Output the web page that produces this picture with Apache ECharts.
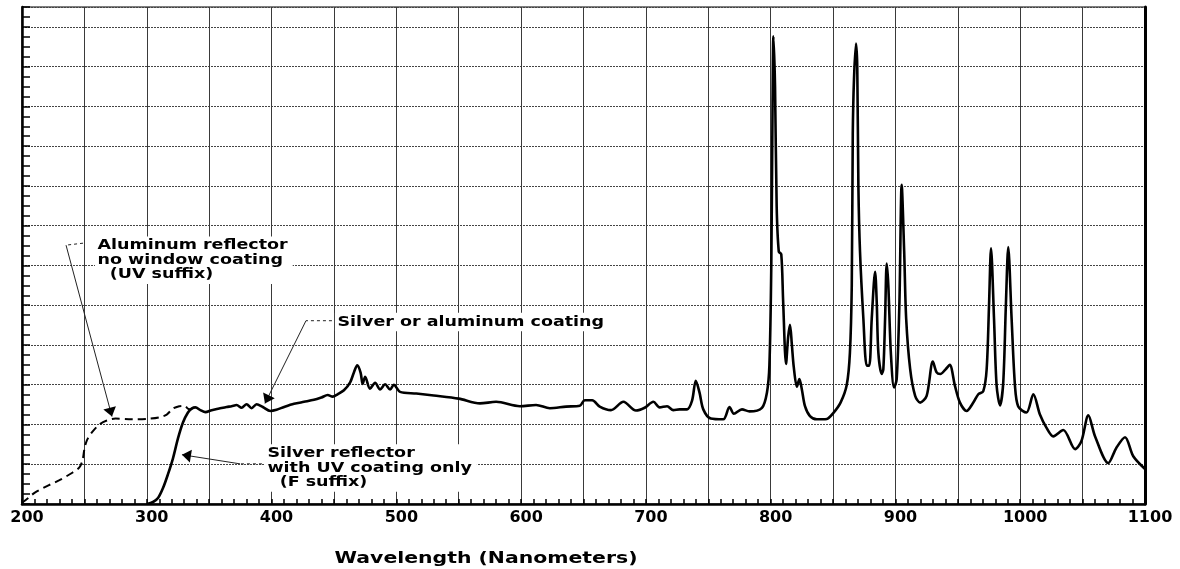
<!DOCTYPE html>
<html><head><meta charset="utf-8">
<script src="https://cdn.jsdelivr.net/npm/echarts/dist/echarts.min.js"></script>
<style>html,body{margin:0;padding:0;background:#fff}#c{width:1180px;height:569px}</style>
</head><body><div id="c"></div>
<script>
// ---- data ----
const xTickLabels = [200, 300, 400, 500, 600, 700, 800, 900, 1000, 1100];
const axisTitle = 'Wavelength (Nanometers)';

// solid curve: silver reflector with UV coating, then common silver/aluminum coating
const solidNm = [300,305,309,313,317,321,325,329,333,336,339,343,347,352,358,364,368,372,376,380,384,388,393,399,404,410,418,426,434,440,445,449,453,458,463,466,468.7,471.4,473,475,478.9,483,487,491,495,498,503,516,530,550,567,580,599,612,623,636,647,651,657,663,672,682,692,699,706,711,717,722,727,733,737,740,743,746,752,762,767,770.5,777,783,793,797,799,800.5,801.5,802.2,803.5,804.8,806.5,808.5,810,812.3,814,815.5,817,818.5,821,823,825,827.5,831.5,837,845,850,856,861,863.5,865,865.8,866.8,868.4,869.4,870.3,871.6,874.3,877,879,881,883.7,885,886.3,889,890.3,891.7,893,894.3,896.3,898.9,901,903.2,905,907,908.6,911.8,915.8,919.8,925,930,933,936,940,943.5,947.7,951.7,957,962.4,966.4,970.4,973.1,975,976.6,979,981.1,983.8,986.4,988.5,990.4,993.1,995.8,998.4,1005,1010.5,1015.8,1021,1026.5,1034.5,1044,1049,1054.6,1060,1070.6,1077,1084,1090.6,1100];
const solidVal = [0.0,0.05,0.15,0.4,0.75,1.15,1.65,2.05,2.3,2.4,2.43,2.36,2.31,2.36,2.4,2.44,2.46,2.49,2.42,2.51,2.41,2.51,2.44,2.34,2.37,2.44,2.52,2.57,2.62,2.68,2.74,2.70,2.76,2.86,3.06,3.31,3.49,3.3,3.02,3.2,2.9,3.05,2.88,3.01,2.88,3.0,2.82,2.78,2.73,2.65,2.53,2.57,2.46,2.49,2.41,2.45,2.47,2.61,2.61,2.45,2.36,2.57,2.35,2.42,2.57,2.43,2.46,2.36,2.38,2.38,2.6,3.1,2.8,2.38,2.15,2.13,2.44,2.27,2.38,2.33,2.42,2.8,3.5,6,10,11.76,10.5,7.5,6.35,6.28,5.1,3.52,4.2,4.51,4.0,3.45,2.95,3.14,2.88,2.46,2.21,2.13,2.14,2.28,2.55,3.0,3.8,5.5,9.3,10.7,11.58,10.99,8.0,6.35,4.66,3.48,3.48,4.66,5.84,5.08,3.81,3.27,3.39,4.66,6.05,5.5,3.81,2.93,3.14,5.08,8.03,6.35,4.66,3.39,2.72,2.55,2.72,3.58,3.31,3.27,3.38,3.5,2.97,2.55,2.34,2.55,2.76,2.84,3.39,5.0,6.43,4.66,2.97,2.48,3.06,5.0,6.46,4.66,2.97,2.45,2.3,2.76,2.25,1.92,1.7,1.86,1.38,1.58,2.23,1.7,1.03,1.41,1.68,1.2,0.88];

// dashed curve: aluminum reflector, no window coating
const dashNm = [200,205,210,220,230,240,246,248.5,250,252,256,262,268,275,288,300,310,316,321,326,330,334,337];
const dashVal = [0.03,0.15,0.28,0.45,0.6,0.78,0.92,1.1,1.38,1.6,1.8,2.0,2.1,2.15,2.13,2.14,2.18,2.25,2.4,2.46,2.47,2.38,2.41];

// annotations (data coordinates: [nm, value])
const annoLabels = [
  ['Aluminum reflector', 'no window coating', '  (UV suffix)'],
  ['Silver or aluminum coating'],
  ['Silver reflector', 'with UV coating only', '  (F suffix)']
];
const annoTextAt = [[258.5, 6.73], [450.8, 4.58], [394.7, 1.50]];
const annoDashFrom = [[248.9, 6.56], [448.4, 4.61], [392.3, 1.01]];
const annoBend = [[235.3, 6.51], [427.6, 4.61], [374.7, 1.01]];
const annoTip = [[272.1, 2.2], [394.7, 2.53], [328.2, 1.24]];

// ---- chart ----
const chart = echarts.init(document.getElementById('c'), null, {renderer: 'canvas'});
const FONT = '"DejaVu Sans", "Liberation Sans", Arial, sans-serif';
const zip = (a, b) => a.map((v, i) => [v, b[i]]);

const option = {
  backgroundColor: '#fff',
  animation: false,
  grid: {left: 22, right: 35, top: 7, bottom: 65, show: true, borderColor: '#000', borderWidth: 1.2, backgroundColor: 'transparent'},
  xAxis: {
    type: 'value', min: 200, max: 1100, interval: 50,
    axisLine: {show: true, lineStyle: {color: '#000', width: 2.5}},
    axisTick: {show: true, inside: true, length: 5, lineStyle: {color: '#000', width: 1.5}},
    minorTick: {show: true, splitNumber: 5, length: 5, lineStyle: {color: '#000', width: 1.5}},
    splitLine: {show: true, lineStyle: {color: '#3a3a3a', width: 1}},
    axisLabel: {
      color: '#000', fontFamily: FONT, fontWeight: 'bold', fontSize: 16, margin: 6,
      padding: [0, 0, 0, 10],
      formatter: v => (xTickLabels.indexOf(v) >= 0 ? String(v) : '')
    }
  },
  yAxis: [{
    type: 'value', min: 0, max: 12.5, interval: 1,
    axisLine: {show: true, lineStyle: {color: '#000', width: 2.5}},
    axisTick: {show: true, inside: true, length: 8, lineStyle: {color: '#000', width: 1.5}},
    minorTick: {show: true, splitNumber: 4, length: 8, lineStyle: {color: '#000', width: 1.5}},
    splitLine: {show: true, lineStyle: {color: '#444', width: 1, type: [2, 1]}},
    axisLabel: {show: false}
  }, {
    type: 'value', min: 0, max: 12.5, position: 'right',
    axisLine: {show: true, lineStyle: {color: '#000', width: 3}},
    axisTick: {show: false}, axisLabel: {show: false}, splitLine: {show: false}
  }],
  series: [{
    type: 'line', name: 'Silver / aluminum coating',
    data: zip(solidNm, solidVal), showSymbol: false, smooth: 0.3,
    lineStyle: {color: '#000', width: 2.6}, z: 5
  }, {
    type: 'line', name: 'Aluminum reflector (UV)',
    data: zip(dashNm, dashVal), showSymbol: false, smooth: 0.3,
    lineStyle: {color: '#000', width: 2, type: [8, 5]}, z: 4
  }]
};
chart.setOption(option);

function px(p) { return chart.convertToPixel({seriesIndex: 0}, p); }
function arrowHead(from, tip, L, W) {
  const dx = tip[0] - from[0], dy = tip[1] - from[1];
  const d = Math.hypot(dx, dy) || 1;
  const ux = dx / d, uy = dy / d, nx = -uy, ny = ux;
  const bx = tip[0] - L * ux, by = tip[1] - L * uy;
  return [tip, [bx + nx * W / 2, by + ny * W / 2], [bx - nx * W / 2, by - ny * W / 2]];
}

const graphics = [];
annoLabels.forEach((lines, i) => {
  const t = px(annoTextAt[i]);
  const d0 = px(annoDashFrom[i]);
  const b = px(annoBend[i]);
  const tip = px(annoTip[i]);
  graphics.push({
    type: 'text', z: 10, x: t[0], y: t[1], scaleX: 1.25,
    style: {
      text: lines.join('\n'), x: 0, y: 0,
      font: 'bold 14px ' + FONT, fill: '#000', lineHeight: 14.5,
      align: 'left', verticalAlign: lines.length > 1 ? 'top' : 'middle',
      backgroundColor: '#fff', padding: [2, 4, 2, 2]
    }
  });
  graphics.push({
    type: 'line', z: 11,
    shape: {x1: d0[0], y1: d0[1], x2: b[0], y2: b[1]},
    style: {stroke: '#222', lineWidth: 1, lineDash: [3, 3]}
  });
  graphics.push({
    type: 'line', z: 11,
    shape: {x1: b[0], y1: b[1], x2: tip[0], y2: tip[1]},
    style: {stroke: '#222', lineWidth: 1}
  });
  graphics.push({
    type: 'polygon', z: 12,
    shape: {points: arrowHead(b, tip, 9, 13)},
    style: {fill: '#000'}
  });
});
graphics.push({
  type: 'text', z: 10, x: 486, y: 559, scaleX: 1.36,
  style: {
    text: axisTitle, x: 0, y: 0, align: 'center', verticalAlign: 'middle',
    font: 'bold 15px ' + FONT, fill: '#000'
  }
});
chart.setOption({graphic: graphics});
</script>
</body></html>
